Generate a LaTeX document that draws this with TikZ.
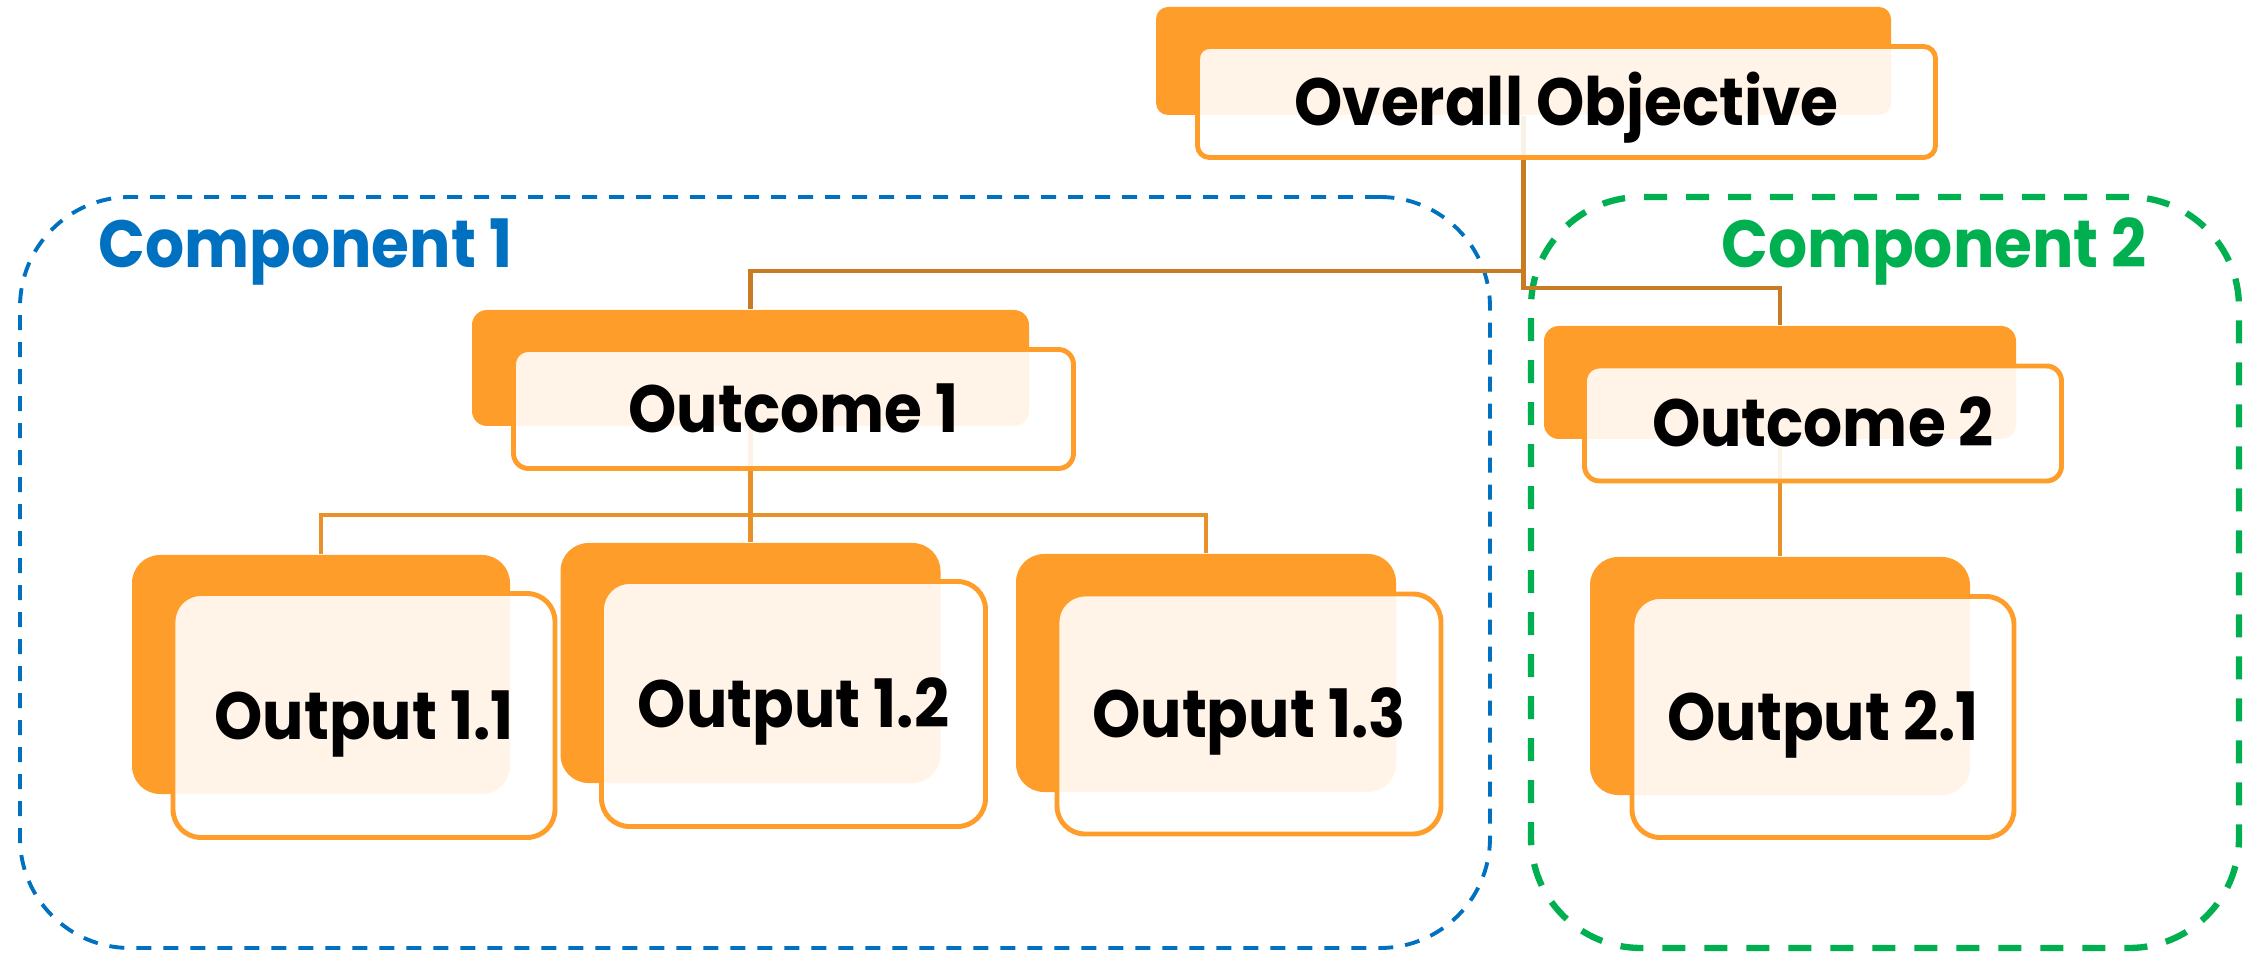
\documentclass[tikz,border=0pt]{standalone}
\usepackage{fontspec}
\setmainfont{Poppins}[FakeStretch=0.92]
\usetikzlibrary{positioning}

\definecolor{boxorange}{HTML}{FF9D2A}
\definecolor{toporange}{HTML}{C97B24}
\definecolor{linkorange}{HTML}{E8902A}
\definecolor{compblue}{HTML}{0070C0}
\definecolor{compgreen}{HTML}{00B050}

\newcommand{\cardfont}{\fontsize{19}{22}\selectfont\bfseries}
\tikzstyle{backbox}=[fill=boxorange, inner sep=0pt]
\tikzstyle{frontbox}=[draw=boxorange, line width=1.4pt, fill=white, fill opacity=0.89, text opacity=1, inner sep=0pt,
                      text height=0.47cm, text depth=0cm, font=\cardfont]
\tikzstyle{link}=[draw, line width=1.4pt, linkorange]
\tikzstyle{compframe}=[draw, rounded corners=1.1cm, inner sep=0pt]
\tikzstyle{complabel}=[font=\cardfont, inner sep=0pt]

\begin{document}
\begin{tikzpicture}[x=1cm, y=-1cm]
    \useasboundingbox (0,0) rectangle (22.57,9.56);
    % component frames and their titles
    \node[compframe, compblue, line width=1.1pt, dash pattern=on 0.15cm off 0.12cm,
          minimum width=14.70cm, minimum height=7.51cm] (comp1) at (7.55,5.725) {};
    \node[compframe, compgreen, line width=1.8pt, dash pattern=on 0.23cm off 0.19cm,
          minimum width=7.08cm, minimum height=7.51cm] (comp2) at (18.85,5.725) {};
    \node[complabel, text=compblue, anchor=base west] (lab1) at (0.98,2.68) {Component 1};
    \node[complabel, text=compgreen, anchor=base] (lab2) at (19.34,2.68) {Component 2};
    % back cards
    \foreach \pos/\name/\w/\h/\r in {{(15.235,0.61)/obj/7.35/1.08/0.12},
        {(7.505,3.68)/oc1/5.57/1.16/0.15}, {(17.80,3.825)/oc2/4.72/1.13/0.15},
        {(3.21,6.745)/o11/3.78/2.39/0.28}, {(7.505,6.63)/o12/3.80/2.40/0.28},
        {(12.06,6.73)/o13/3.80/2.38/0.28}, {(17.80,6.76)/o21/3.80/2.38/0.28}}
        \node[backbox, minimum width=\w cm, minimum height=\h cm, rounded corners=\r cm] (\name-b) at \pos {};
    % connectors
    \coordinate (j1) at (obj-b.south |- 0,2.71);
    \coordinate (j2) at (obj-b.south |- 0,2.88);
    \coordinate (j3) at (oc1-b.south |- 0,5.15);
    \path[link, toporange] (obj-b.south) -- (j2) -| (oc2-b.north);
    \path[link, toporange] (j1) -| (oc1-b.north);
    \path[link] (oc1-b.south) -- (o12-b.north);
    \foreach \dest in {o11,o13}
        \path[link] (j3) -| (\dest-b.north);
    \path[link] (oc2-b.south) -- (o21-b.north);
    % front cards with the texts
    \foreach \name/\w/\h/\r/\txt in {obj/7.38/1.11/0.12/Overall Objective,
        oc1/5.60/1.19/0.15/Outcome 1, oc2/4.77/1.15/0.15/Outcome 2,
        o11/3.82/2.44/0.28/Output 1.1, o12/3.84/2.45/0.28/Output 1.2,
        o13/3.84/2.40/0.28/Output 1.3, o21/3.82/2.41/0.28/Output 2.1}
        \node[frontbox, xshift=0.43cm, yshift=-0.41cm, minimum width=\w cm, minimum height=\h cm,
              rounded corners=\r cm] (\name) at (\name-b) {\txt};
\end{tikzpicture}
\end{document}
